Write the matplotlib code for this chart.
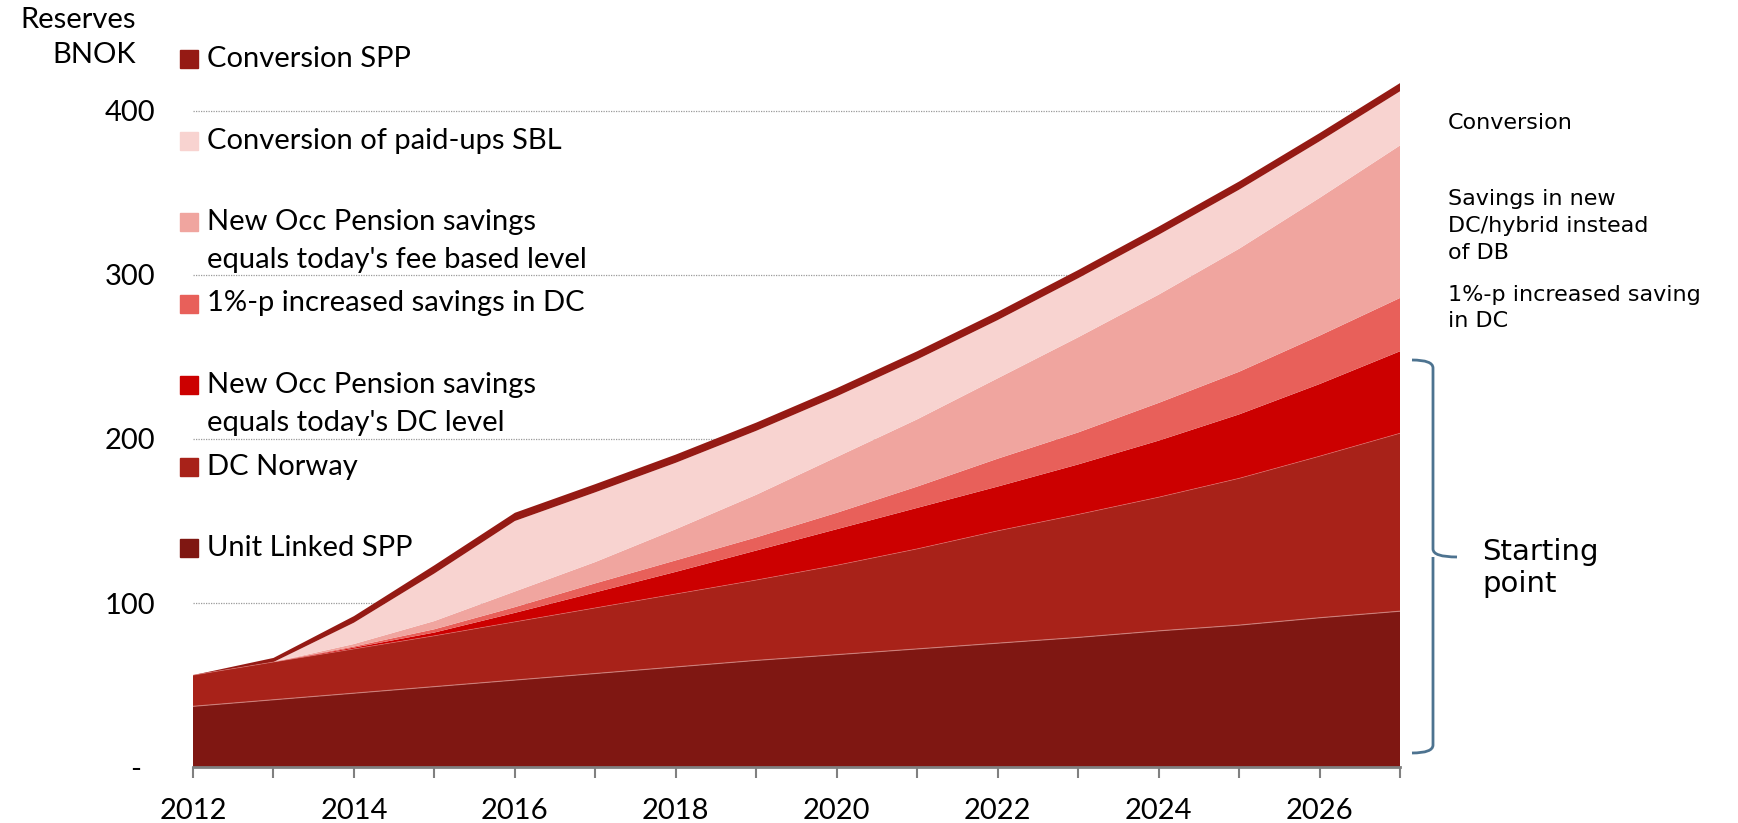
import matplotlib
matplotlib.use("Agg")
import matplotlib.pyplot as plt
from matplotlib.patches import Rectangle, PathPatch
from matplotlib.path import Path
import matplotlib.transforms as mtransforms

# reserves by component, BNOK (stacked from the bottom)
years = [2012, 2013, 2014, 2015, 2016, 2017, 2018, 2019, 2020, 2021, 2022, 2023, 2024, 2025, 2026, 2027]
unit_linked = [37, 41, 45, 49, 53, 57, 61, 65, 68.5, 72, 75.5, 79, 83, 86.5, 91, 95]
dc_norway = [19, 23, 27, 31, 35.5, 40, 44.5, 49, 54.5, 61, 68.5, 75, 81.5, 89.5, 98.5, 108.5]
dc_level = [0, 0, 0.8, 2, 5.5, 9.5, 13.5, 18, 22, 25, 27, 30.5, 34.5, 39, 44, 50]
pct_increase = [0, 0, 0.7, 2, 3.5, 5.5, 7, 8, 10, 13, 17, 19.5, 23, 26, 29.5, 32.5]
fee_based = [0, 0, 1.5, 5, 9.5, 13, 19, 26, 34, 41, 49, 58, 66, 75, 84, 93]
paid_ups_sbl = [0, 0, 13, 29, 43, 42.5, 40.5, 39, 37, 36.5, 35.5, 36, 36.5, 36, 34.5, 33]
conversion_spp = [0, 2.5, 4, 5, 5, 5, 5, 5, 5, 5, 5, 5, 5, 5, 5, 5]

series = [unit_linked, dc_norway, dc_level, pct_increase, fee_based, paid_ups_sbl, conversion_spp]
colors = ['#7f1712', '#a82219', '#cc0000', '#e8605a', '#f0a59f', '#f8d3d0', '#951a14']

# legend, top to bottom
legend_labels = ["Conversion SPP",
                 "Conversion of paid-ups SBL",
                 "New Occ Pension savings\nequals today's fee based level",
                 "1%-p increased savings in DC",
                 "New Occ Pension savings\nequals today's DC level",
                 "DC Norway",
                 "Unit Linked SPP"]
legend_colors = colors[::-1]

yticks = [0, 100, 200, 300, 400]
ytick_labels = ['-', '100', '200', '300', '400']
xticks_major = [2012, 2014, 2016, 2018, 2020, 2022, 2024, 2026]

W, H = 1738, 823
fig = plt.figure(figsize=(W / 100, H / 100), dpi=100)
ax = fig.add_axes([193 / W, (H - 767) / H, (1400 - 193) / W, 4.2 * 164 / H])

tick_font = 'Lato'


def fig_text(x, y, s, **kw):
    # place text by pixel position measured from the top left corner
    return fig.text(x / W, 1 - y / H, s, **kw)


for y in yticks[1:]:
    ax.axhline(y, color='#9a9a9a', lw=0.9, ls=(0, (1, 1)), zorder=0)

ax.stackplot(years, *series, colors=colors, lw=0, zorder=2)

# faint seams between the lower layers
seam1 = [a for a in unit_linked]
seam2 = [a + b for a, b in zip(unit_linked, dc_norway)]
ax.plot(years, seam1, color='#d48a85', lw=0.8, alpha=0.8, zorder=3)
ax.plot(years, seam2, color='#e07a75', lw=0.6, alpha=0.6, zorder=3)

ax.set_xlim(2012, 2027)
ax.set_ylim(0, 420)
for s in ['top', 'right', 'left']:
    ax.spines[s].set_visible(False)
ax.spines['bottom'].set_color('#808080')
ax.spines['bottom'].set_linewidth(2)
ax.spines['bottom'].set_zorder(4)

ax.set_xticks(years, minor=True)
ax.set_xticks(xticks_major)
ax.set_xticklabels([str(y) for y in xticks_major], fontsize=21, family=tick_font)
ax.tick_params(axis='x', which='both', length=8, width=1.5, color='#808080', pad=14)
ax.set_yticks(yticks)
ax.set_yticklabels(ytick_labels, fontsize=21, family=tick_font)
ax.tick_params(axis='y', length=0, pad=27)
# the zero label sits a little further left
lab0 = ax.get_yticklabels()[0]
lab0.set_transform(lab0.get_transform() + mtransforms.ScaledTranslation(-14 / 100, 0, fig.dpi_scale_trans))

fig_text(136, 20, "Reserves", ha='right', va='center', fontsize=21, family=tick_font)
fig_text(136, 55, "BNOK", ha='right', va='center', fontsize=21, family=tick_font)

# legend squares with labels
for i, (lab, col) in enumerate(zip(legend_labels, legend_colors)):
    yc = 59 + i * 81.5
    fig.patches.append(Rectangle((180 / W, 1 - (yc + 9) / H), 18 / W, 18 / H,
                                 transform=fig.transFigure, color=col, figure=fig))
    for j, line in enumerate(lab.split('\n')):
        fig_text(207, yc + 38 * j, line, ha='left', va='center', fontsize=21, family=tick_font)

# notes on the right
note_font = 'DejaVu Sans'
fig_text(1448, 123, "Conversion", ha='left', va='center', fontsize=16, family=note_font)
fig_text(1448, 226, "Savings in new\nDC/hybrid instead\nof DB", ha='left', va='center',
         fontsize=16, family=note_font, linespacing=1.43)
fig_text(1448, 308, "1%-p increased saving\nin DC", ha='left', va='center',
         fontsize=16, family=note_font, linespacing=1.36)
fig_text(1482, 568, "Starting\npoint", ha='left', va='center', fontsize=21,
         family=note_font, linespacing=1.22)

# curly brace next to the bottom layers
x0, x1, x2 = 1412 / W, 1433 / W, 1457 / W
yt, ym, yb = 1 - 360 / H, 1 - 557 / H, 1 - 753 / H
r = 8 / H
verts = [(x0, yt), (x1, yt), (x1, yt - r),
         (x1, ym + r), (x1, ym), (x2, ym),
         (x1, ym), (x1, ym - r),
         (x1, yb + r), (x1, yb), (x0, yb)]
codes = [Path.MOVETO, Path.CURVE3, Path.CURVE3,
         Path.LINETO, Path.CURVE3, Path.CURVE3,
         Path.MOVETO, Path.LINETO,
         Path.LINETO, Path.CURVE3, Path.CURVE3]
fig.patches.append(PathPatch(Path(verts, codes), transform=fig.transFigure, fill=False,
                             edgecolor='#4d7390', lw=2, figure=fig))

fig.savefig('out.png', dpi=100)
